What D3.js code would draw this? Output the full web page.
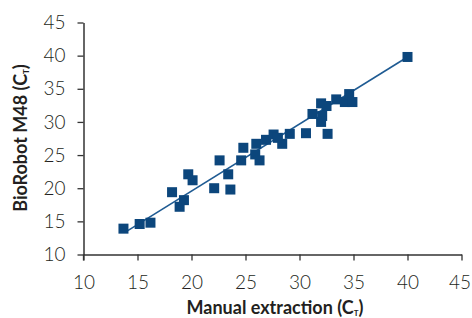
<!DOCTYPE html>
<html>
<head>
<meta charset="utf-8">
<script src="https://cdn.jsdelivr.net/npm/d3@7"></script>
<style>
  html, body { margin: 0; padding: 0; background: #fff; }
  text { font-family: Lato, "DejaVu Sans", sans-serif; fill: #231f20; }
</style>
</head>
<body>
<div id="chart"></div>
<script>
// values: manual extraction Ct vs BioRobot M48 Ct
const manualCt = [13.7, 15.2, 16.2, 18.9, 19.3, 18.2, 19.7, 20.1, 22.1, 23.6, 23.4, 22.6,
  24.6, 24.8, 26.3, 25.9, 26.0, 26.9, 27.6, 28.4, 28.0, 29.1, 30.6, 32.6, 31.2, 32.0,
  32.5, 32.1, 32.0, 33.4, 34.2, 34.6, 34.9, 40.0];
const roboCt = [13.9, 14.6, 14.8, 17.2, 18.2, 19.4, 22.1, 21.2, 20.0, 19.8, 22.1, 24.2,
  24.2, 26.1, 24.2, 25.1, 26.7, 27.3, 28.1, 26.7, 27.6, 28.2, 28.3, 28.2, 31.2, 32.8,
  32.4, 30.9, 30.0, 33.4, 33.0, 34.2, 33.0, 39.8];
// trendline end points as drawn in the picture
const trendX = [14.1, 40.0];
const trendY = [13.6, 39.8];
const tickValues = [10, 15, 20, 25, 30, 35, 40, 45];

const width = 472, height = 318;

const svg = d3.select("#chart").append("svg")
  .attr("width", width)
  .attr("height", height);

const x = d3.scaleLinear().domain([10, 45]).range([83.5, 461.5]);
const y = d3.scaleLinear().domain([10, 45]).range([254.5, 22.5]);

svg.append("line")
  .attr("x1", x(trendX[0])).attr("y1", y(trendY[0]))
  .attr("x2", x(trendX[1])).attr("y2", y(trendY[1]))
  .attr("stroke", "#1f5b93")
  .attr("stroke-width", 1.6);

// points
const sz = 10;
svg.selectAll("rect.pt")
  .data(manualCt.map((v, i) => [v, roboCt[i]]))
  .enter().append("rect")
  .attr("class", "pt")
  .attr("x", d => x(d[0]) - sz / 2)
  .attr("y", d => y(d[1]) - sz / 2)
  .attr("width", sz)
  .attr("height", sz)
  .attr("fill", "#0c467c");

// axes
const xAxis = svg.append("g")
  .attr("transform", `translate(0,${y(10)})`)
  .call(d3.axisBottom(x).tickValues(tickValues).tickSize(6).tickSizeOuter(0).tickPadding(15));

const yAxis = svg.append("g")
  .attr("transform", `translate(${x(10)},0)`)
  .call(d3.axisLeft(y).tickValues(tickValues).tickSize(6).tickSizeOuter(0).tickPadding(12));

[xAxis, yAxis].forEach(g => {
  g.select(".domain").attr("stroke", "#333").attr("stroke-width", 1.5);
  g.selectAll(".tick line").attr("stroke", "#333").attr("stroke-width", 1.3);
  g.selectAll(".tick text")
    .attr("fill", "#231f20")
    .style("font-family", "Lato, sans-serif")
    .style("font-size", "19px")
    .style("font-weight", 300);
});

// last x label sits a little left of its tick, as in the picture
xAxis.selectAll(".tick text").filter(d => d === 45).attr("dx", -2);

// extend y axis down to meet the 10 tick of the x axis
svg.append("line")
  .attr("x1", x(10)).attr("x2", x(10))
  .attr("y1", y(10)).attr("y2", y(10) + 6)
  .attr("stroke", "#333").attr("stroke-width", 1.3);

// axis titles
const xt = svg.append("text")
  .attr("x", 275).attr("y", 314)
  .attr("text-anchor", "middle")
  .style("font-size", "18px")
  .style("font-weight", "bold");
xt.append("tspan").text("Manual extraction (C");
xt.append("tspan").attr("baseline-shift", "-2px").style("font-size", "8px").text("T");
xt.append("tspan").text(")");

const yt = svg.append("text")
  .attr("transform", "translate(27,138) rotate(-90)")
  .attr("text-anchor", "middle")
  .style("font-size", "18px")
  .style("font-weight", "bold");
yt.append("tspan").text("BioRobot M48 (C");
yt.append("tspan").attr("baseline-shift", "-2px").style("font-size", "8px").text("T");
yt.append("tspan").text(")");
</script>
</body>
</html>
